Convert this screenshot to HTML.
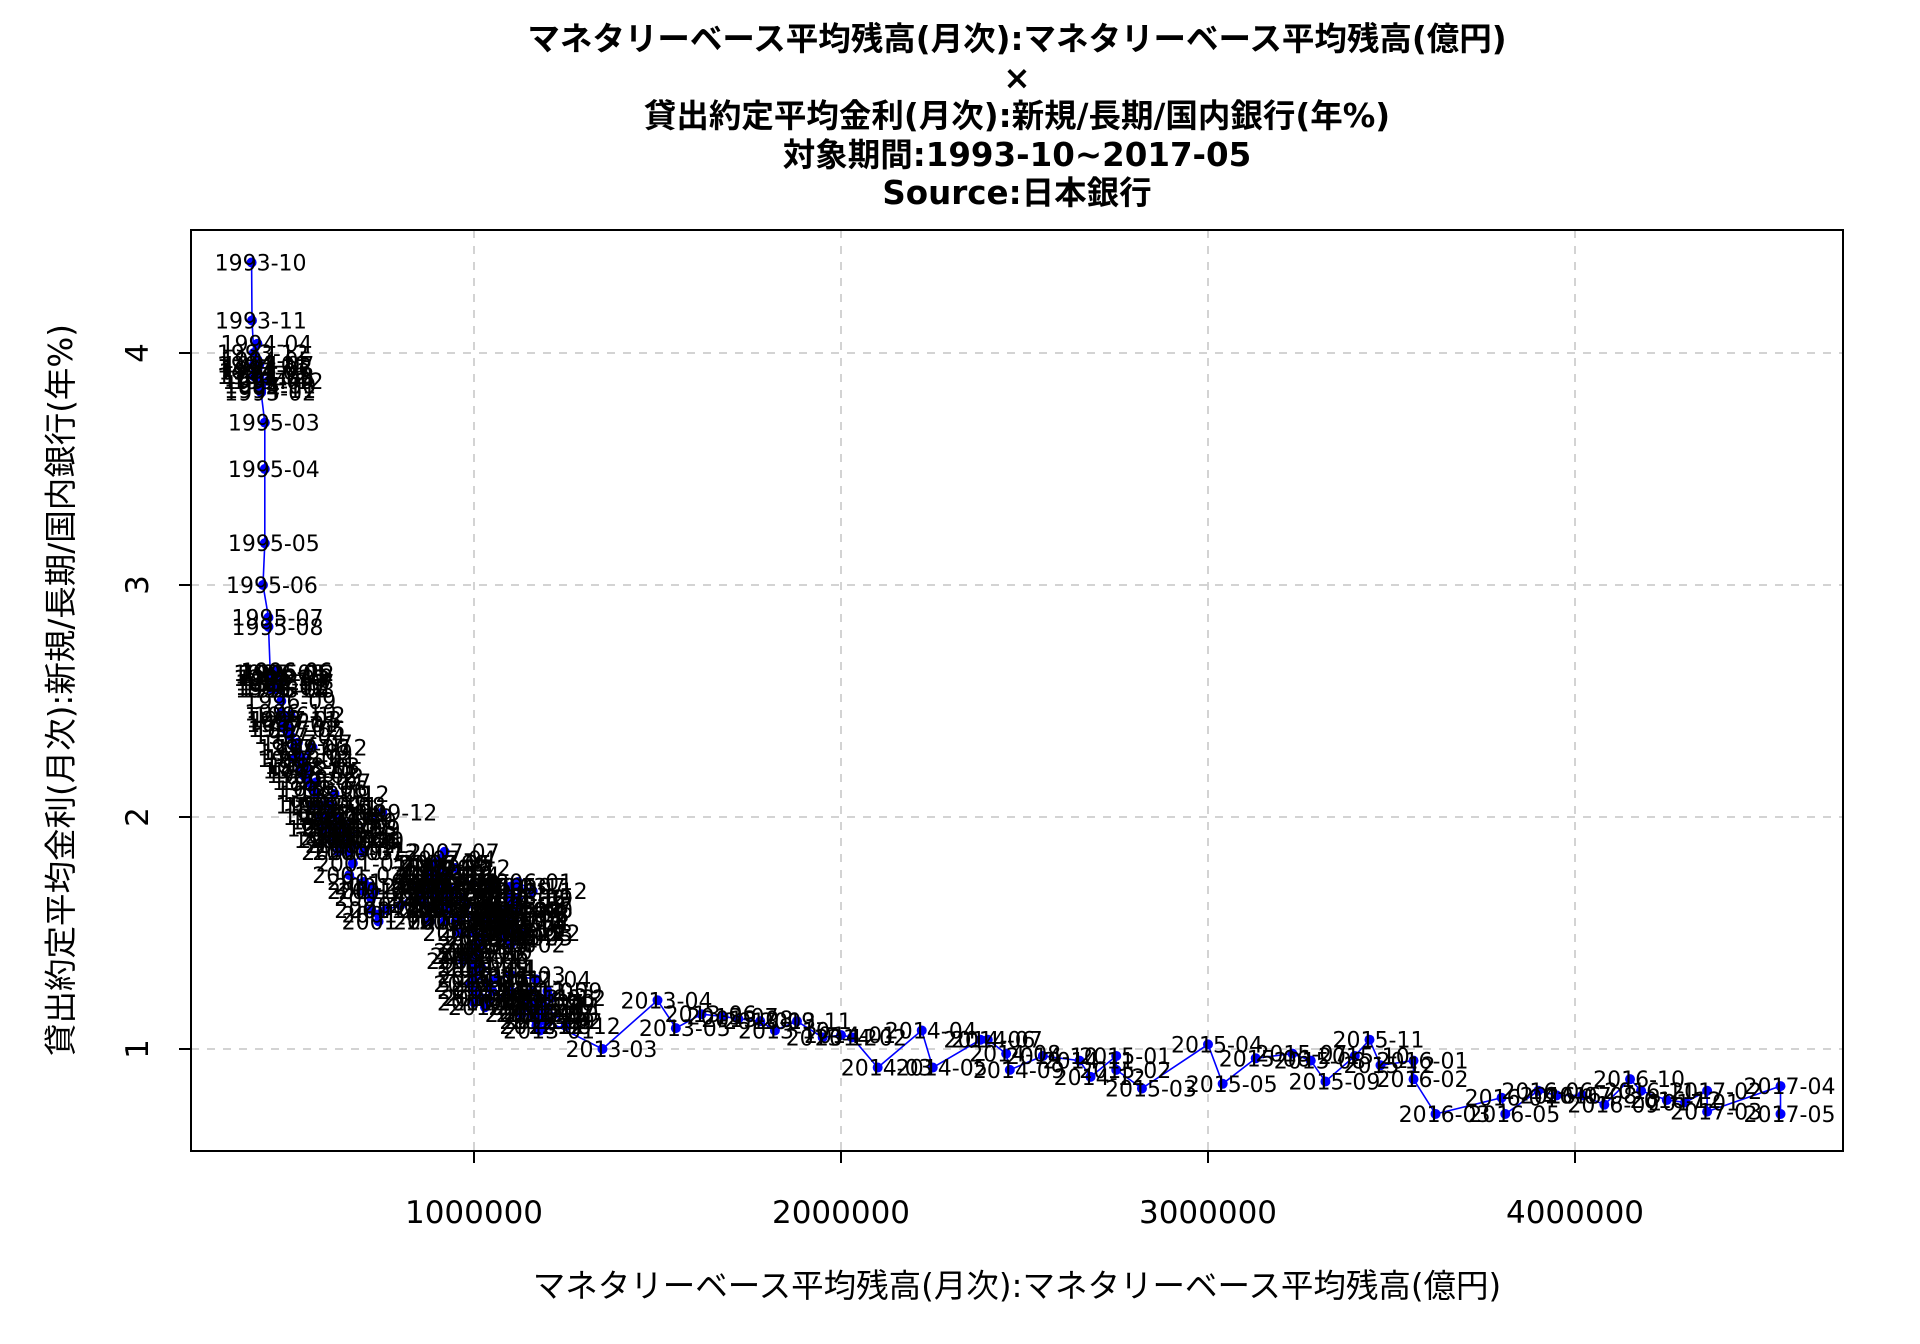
<!DOCTYPE html>
<html><head><meta charset="utf-8"><style>
html,body{margin:0;padding:0;background:#fff;}
svg{display:block;font-family:"DejaVu Sans","Noto Sans CJK JP",sans-serif;}
</style></head><body>
<svg id="chart" width="1920" height="1344" viewBox="0 0 1920 1344">
<g font-weight="bold" font-size="32.5" text-anchor="middle" fill="#000">
<text x="1017" y="50">マネタリーベース平均残高(月次):マネタリーベース平均残高(億円)</text>
<text x="1017" y="89">×</text>
<text x="1017" y="127">貸出約定平均金利(月次):新規/長期/国内銀行(年%)</text>
<text x="1017" y="166">対象期間:1993-10~2017-05</text>
<text x="1017" y="204">Source:日本銀行</text>
</g>
<g id="grid"></g>
<g id="series"></g>
<g id="labels" font-size="22" text-anchor="middle" fill="#000"></g>
<rect x="191" y="230" width="1652" height="921" fill="none" stroke="#000" stroke-width="2"/>
<g id="axes"></g>
<text x="1017" y="1297" font-size="32.5" text-anchor="middle">マネタリーベース平均残高(月次):マネタリーベース平均残高(億円)</text>
<text x="0" y="0" font-size="32.5" text-anchor="middle" transform="translate(72,690) rotate(-90)">貸出約定平均金利(月次):新規/長期/国内銀行(年%)</text>
</svg>
<script>
const xTicks=[1000000,2000000,3000000,4000000];
const yTicks=[1,2,3,4];
const startYear=1993, startMonth=10;
// money base in millions of 億円 (x), rate in % (y)
const xVals=[
.394,.395,.40,
.40,.40,.405,.41,.41,.41,.415,.415,.415,.42,.42,.44,
.42,.42,.43,.43,.43,.425,.44,.44,.445,.445,.45,.47,
.45,.45,.455,.46,.46,.465,.47,.47,.475,.475,.48,.50,
.48,.485,.49,.50,.50,.51,.52,.51,.52,.525,.53,.56,
.53,.535,.54,.55,.55,.56,.57,.56,.57,.58,.59,.62,
.58,.59,.60,.61,.60,.61,.62,.61,.63,.64,.66,.75,
.63,.62,.63,.64,.64,.65,.66,.64,.65,.66,.67,.70,
.67,.66,.70,.72,.70,.72,.73,.72,.74,.74,.76,.80,
.85,.86,.90,.88,.87,.88,.89,.88,.90,.91,.92,.95,
.93,.93,.96,.98,1.0,1.02,1.03,1.03,1.05,1.05,1.06,1.10,
1.08,1.08,1.10,1.09,1.09,1.10,1.10,1.09,1.10,1.10,1.10,1.14,
1.11,1.10,1.12,1.11,1.12,1.12,1.12,1.11,1.12,1.12,1.12,1.16,
1.12,1.10,1.05,.92,.90,.88,.89,.88,.89,.88,.89,.95,
.89,.88,.90,.91,.90,.90,.92,.90,.91,.92,.92,.97,
.93,.92,.93,.92,.93,.93,.93,.92,.93,.95,.96,1.02,
.98,.97,.99,1.0,1.0,1.0,1.02,1.0,1.0,1.01,1.02,1.06,
1.0,.99,1.0,1.02,1.0,1.0,1.02,1.0,1.01,1.03,1.04,1.10,
1.05,1.04,1.10,1.17,1.16,1.14,1.15,1.17,1.20,1.18,1.16,1.21,
1.14,1.13,1.18,1.15,1.16,1.17,1.18,1.17,1.18,1.19,1.20,1.25,
1.18,1.20,1.35,1.50,1.55,1.62,1.68,1.72,1.78,1.82,1.88,1.95,
2.0,2.03,2.10,2.22,2.25,2.38,2.40,2.45,2.46,2.55,2.65,2.68,
2.75,2.75,2.82,3.0,3.04,3.13,3.23,3.28,3.32,3.40,3.44,3.47,
3.56,3.56,3.62,3.80,3.81,3.90,3.95,4.02,4.08,4.15,4.18,4.25,
4.30,4.36,4.36,4.56,4.56];
const yVals=[
4.39,4.14,4.00,
3.95,3.90,3.92,4.04,3.97,3.93,3.95,3.90,3.88,3.86,3.84,3.88,
3.86,3.83,3.70,3.50,3.18,3.00,2.86,2.82,2.62,2.60,2.55,2.62,
2.58,2.56,2.60,2.55,2.62,2.63,2.58,2.55,2.50,2.45,2.42,2.44,
2.40,2.38,2.42,2.35,2.38,2.30,2.32,2.25,2.28,2.20,2.22,2.30,
2.25,2.18,2.22,2.15,2.20,2.12,2.15,2.05,2.10,2.00,2.05,2.10,
2.05,1.95,2.00,2.02,1.98,1.90,1.95,2.05,2.00,1.98,1.92,2.02,
1.96,1.90,1.85,1.88,1.95,1.90,1.85,1.92,1.95,1.90,1.88,1.85,
1.80,1.75,1.72,1.70,1.68,1.65,1.68,1.60,1.58,1.55,1.60,1.62,
1.70,1.65,1.60,1.55,1.62,1.68,1.75,1.70,1.65,1.60,1.72,1.68,
1.65,1.60,1.55,1.62,1.50,1.45,1.55,1.48,1.60,1.58,1.52,1.50,
1.55,1.48,1.62,1.55,1.50,1.65,1.70,1.60,1.58,1.52,1.55,1.50,
1.52,1.45,1.50,1.55,1.48,1.60,1.62,1.58,1.65,1.60,1.70,1.68,
1.72,1.65,1.70,1.75,1.80,1.78,1.72,1.75,1.80,1.72,1.74,1.78,
1.75,1.70,1.78,1.82,1.80,1.78,1.85,1.75,1.70,1.72,1.68,1.65,
1.60,1.55,1.60,1.62,1.65,1.68,1.70,1.65,1.60,1.55,1.50,1.48,
1.40,1.38,1.42,1.45,1.50,1.40,1.45,1.38,1.35,1.42,1.35,1.30,
1.30,1.28,1.32,1.35,1.30,1.25,1.22,1.20,1.22,1.18,1.20,1.25,
1.25,1.28,1.32,1.30,1.25,1.22,1.20,1.15,1.25,1.20,1.18,1.22,
1.18,1.15,1.22,1.20,1.15,1.12,1.15,1.10,1.12,1.15,1.18,1.10,
1.08,1.12,1.00,1.21,1.09,1.15,1.14,1.13,1.12,1.08,1.12,1.05,
1.06,1.05,0.92,1.08,0.92,1.04,1.04,0.98,0.91,0.97,0.95,0.88,
0.97,0.91,0.83,1.02,0.85,0.96,0.98,0.95,0.86,0.97,1.04,0.93,
0.95,0.87,0.72,0.79,0.72,0.82,0.80,0.80,0.76,0.87,0.82,0.78,
0.77,0.82,0.73,0.84,0.72];
const NS='http://www.w3.org/2000/svg';
const L=191,R=1843,T=230,B=1151;
function sx(v){return 107+v*367/1000000;}
function sy(v){return 1049-(v-1)*232;}
function mk(tag,attrs,parent){const e=document.createElementNS(NS,tag);for(const k in attrs)e.setAttribute(k,attrs[k]);parent.appendChild(e);return e;}
const grid=document.getElementById('grid'),axes=document.getElementById('axes');
xTicks.forEach(t=>{const x=sx(t);
 const g=mk('line',{x1:x,x2:x,y1:T,y2:B,stroke:'#d3d3d3','stroke-width':2,'stroke-dasharray':'8,8'},grid);
 
 
 const tk=mk('line',{x1:x,x2:x,y1:B,y2:B+12,stroke:'#000','stroke-width':2},axes);
 
 
 const tl=mk('text',{x:x,y:1223,'font-size':31,'text-anchor':'middle'},axes);tl.textContent=String(t);
 
 
});
yTicks.forEach(t=>{const y=sy(t);
 const g=mk('line',{x1:L,x2:R,y1:y,y2:y,stroke:'#d3d3d3','stroke-width':2,'stroke-dasharray':'8,8'},grid);
 
 
 const tk=mk('line',{x1:L-12,x2:L,y1:y,y2:y,stroke:'#000','stroke-width':2},axes);
 
 
 const tl=mk('text',{x:0,y:0,'font-size':31,'text-anchor':'middle',transform:`translate(148,${y}) rotate(-90)`},axes);tl.textContent=String(t);
 
 
});
const series=document.getElementById('series'),labels=document.getElementById('labels');
const n=Math.min(xVals.length,yVals.length);
let d='';
for(let i=0;i<n;i++){d+=(i?'L':'M')+sx(xVals[i]*1e6).toFixed(1)+','+sy(yVals[i]).toFixed(1);}
const path=mk('path',{d:d,fill:'none',stroke:'#0000ff','stroke-width':1.6},series);


for(let i=0;i<n;i++){
 const x=sx(xVals[i]*1e6),y=sy(yVals[i]);
 const c=mk('circle',{cx:x,cy:y,r:5,fill:'#0000ff'},series);
 
 
 const m=startMonth-1+i,yr=startYear+Math.floor(m/12),mo=m%12+1;
 const t=mk('text',{x:x+9,y:y+8},labels);t.textContent=yr+'-'+String(mo).padStart(2,'0');
 
 
}
</script>
</body></html>
